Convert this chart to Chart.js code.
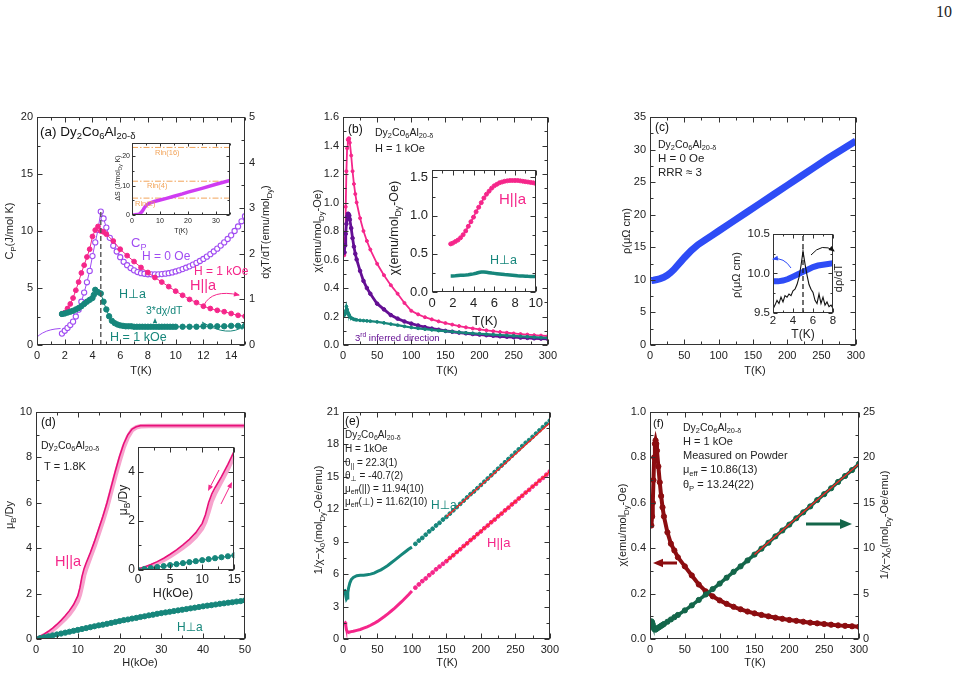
<!DOCTYPE html>
<html><head><meta charset="utf-8">
<script src="https://cdn.jsdelivr.net/npm/chart.js@4.4.1/dist/chart.umd.min.js"></script>
<style>
html,body{margin:0;padding:0;background:#fff;}
#wrap{position:relative;width:962px;height:678px;overflow:hidden;background:#fff;}
#wrap canvas{position:absolute;}
#pg{position:absolute;left:936px;top:3px;font:16px 'Liberation Serif','DejaVu Serif',serif;color:#222;}
</style></head><body><div id="wrap"><div id="pg">10</div></div>
<script>
// ---------------- DATA ----------------
// (a) specific heat and derivatives
const aCpT = [1.8,2.0,2.2,2.4,2.6,2.8,3.0,3.2,3.4,3.6,3.8,4.0,4.2,4.4,4.6,4.8,5.0,5.25,5.5,5.75,6.0,6.25,6.5,6.75,7.0,7.25,7.5,7.75,8.0,8.25,8.5,8.75,9.0,9.25,9.5,9.75,10.0,10.25,10.5,10.75,11.0,11.25,11.5,11.75,12.0,12.25,12.5,12.75,13.0,13.25,13.5,13.75,14.0,14.25,14.5,14.75,15.0];
const aCp = [1.0,1.25,1.5,1.75,2.05,2.5,3.1,3.8,4.6,5.5,6.5,7.8,9.0,10.1,11.7,11.1,10.3,9.4,8.7,8.2,7.7,7.3,7.0,6.75,6.55,6.4,6.3,6.25,6.2,6.2,6.2,6.2,6.22,6.26,6.3,6.37,6.45,6.55,6.66,6.78,6.9,7.05,7.2,7.37,7.55,7.75,7.97,8.2,8.45,8.72,9.0,9.3,9.62,10.0,10.4,10.85,11.3];
const aCpFitT = [0,0.2,0.4,0.7,1.0,1.3,1.7];
const aCpFit = [0.7,0.9,1.05,1.22,1.33,1.4,1.45];
const aParaT = [1.8,2.0,2.2,2.4,2.6,2.8,3.0,3.2,3.4,3.6,3.8,4.0,4.2,4.4,4.6,4.8,5.0,5.5,6.0,6.5,7.0,7.5,8.0,8.5,9.0,9.5,10.0,10.5,11.0,11.5,12.0,12.5,13.0,13.5,14.0,14.5,15.0];
const aPara = [0.675,0.71,0.8,0.9,1.03,1.2,1.38,1.58,1.75,1.93,2.1,2.38,2.52,2.6,2.5,2.48,2.43,2.28,2.1,1.96,1.83,1.7,1.59,1.48,1.38,1.28,1.18,1.09,1.0,0.93,0.85,0.8,0.76,0.73,0.69,0.65,0.63];
const aPerpT = [1.8,2.0,2.2,2.4,2.6,2.8,3.0,3.2,3.4,3.6,3.8,4.0,4.1,4.2,4.4,4.6,4.8,5.0,5.2,5.4,5.6,5.8,6.0,6.2,6.4,6.6,6.8,7.0,7.2,7.4,7.6,7.8,8.0,8.2,8.4,8.6,8.8,9.0,9.2,9.4,9.6,9.8,10.0,10.5,11.0,11.5,12.0,12.5,13.0,13.5,14.0,14.5,15.0];
const aPerp = [0.68,0.69,0.71,0.73,0.75,0.78,0.81,0.85,0.9,0.95,0.99,1.03,1.1,1.21,1.16,1.13,0.95,0.78,0.63,0.53,0.48,0.45,0.43,0.42,0.41,0.41,0.41,0.4,0.4,0.4,0.4,0.4,0.4,0.4,0.4,0.4,0.4,0.4,0.4,0.4,0.4,0.4,0.4,0.4,0.4,0.4,0.41,0.41,0.41,0.41,0.42,0.42,0.42];
const aTnT = [4.6,4.6];
const aTn = [0,11.9];
const aDST = [0,1,2,2.5,3,3.5,4,4.5,5,5.5,6,7,8,10,12,15,18,20,25,30,35];
const aDS = [0,0.05,0.15,0.3,0.6,1.1,1.8,2.6,3.2,3.6,3.9,4.3,4.6,5.1,5.6,6.4,7.2,7.8,9.1,10.5,11.8];
const aRlnX = [0,35];
const aRlnNames = ['Rln(2)','Rln(4)','Rln(16)'];
const aRlnVals = [5.76,11.53,23.05];
// (b) susceptibility
const bT = [1.8,2,3,4,5,6,7,8,9,10,12,14,16,18,20,25,30,35,40,50,60,70,80,90,100,110,120,130,140,150,160,170,180,190,200,210,220,230,240,250,260,270,280,290,300];
const bPara = [0.63,0.64,0.75,0.97,1.22,1.38,1.44,1.45,1.45,1.42,1.33,1.22,1.13,1.06,1.0,0.89,0.8,0.73,0.67,0.57,0.49,0.42,0.36,0.295,0.24,0.215,0.195,0.18,0.166,0.154,0.143,0.133,0.124,0.116,0.109,0.103,0.097,0.091,0.086,0.081,0.077,0.073,0.069,0.066,0.063];
const bThird = [0.65,0.65,0.7,0.78,0.85,0.9,0.92,0.92,0.91,0.88,0.82,0.75,0.69,0.64,0.6,0.52,0.45,0.4,0.36,0.29,0.25,0.21,0.185,0.165,0.15,0.137,0.125,0.115,0.107,0.099,0.093,0.087,0.082,0.077,0.073,0.069,0.065,0.061,0.058,0.055,0.052,0.05,0.047,0.045,0.043];
const bPerp = [0.21,0.21,0.22,0.24,0.27,0.25,0.23,0.22,0.21,0.2,0.19,0.185,0.18,0.178,0.176,0.173,0.171,0.169,0.167,0.162,0.155,0.147,0.139,0.131,0.123,0.117,0.111,0.106,0.101,0.097,0.093,0.089,0.085,0.082,0.079,0.076,0.073,0.07,0.067,0.064,0.061,0.058,0.055,0.052,0.05];
const biT = [1.8,2,2.25,2.5,2.75,3,3.25,3.5,3.75,4,4.25,4.5,4.75,5,5.25,5.5,5.75,6,6.25,6.5,6.75,7,7.25,7.5,7.75,8,8.25,8.5,8.75,9,9.25,9.5,9.75,10];
const biPara = [0.63,0.64,0.66,0.68,0.71,0.75,0.8,0.86,0.92,0.98,1.05,1.11,1.17,1.23,1.28,1.32,1.36,1.39,1.41,1.43,1.44,1.45,1.455,1.46,1.46,1.46,1.46,1.455,1.45,1.445,1.44,1.435,1.43,1.42];
const biPerp = [0.21,0.21,0.212,0.215,0.218,0.22,0.223,0.227,0.232,0.237,0.245,0.255,0.262,0.262,0.258,0.253,0.248,0.244,0.24,0.236,0.232,0.228,0.225,0.222,0.219,0.216,0.213,0.211,0.209,0.207,0.205,0.204,0.203,0.202];
// (c) resistivity
const cT = [2,5,10,15,20,25,30,35,40,45,50,60,70,80,90,100,120,140,160,180,200,220,240,260,280,300];
const cRho = [9.9,9.95,10.05,10.2,10.4,10.7,11.1,11.6,12.2,12.8,13.4,14.5,15.4,16.1,16.8,17.5,18.9,20.3,21.7,23.1,24.5,25.9,27.3,28.7,30.0,31.3];
const ciT = [2,2.5,3,3.5,4,4.5,5,5.5,6,6.5,7,7.5,8];
const ciRho = [9.9,9.9,9.91,9.93,9.96,9.99,10.02,10.05,10.08,10.1,10.11,10.12,10.13];
const ciDT = [2.0,2.2,2.4,2.6,2.8,3.0,3.2,3.4,3.6,3.8,4.0,4.2,4.4,4.6,4.8,5.0,5.2,5.4,5.6,5.8,6.0,6.2,6.4,6.6,6.8,7.0,7.2,7.4,7.6,7.8,8.0];
const ciD = [9.55,9.6,9.66,9.62,9.7,9.64,9.72,9.7,9.74,9.72,9.78,9.8,9.86,9.95,10.1,10.28,10.12,9.98,9.86,9.8,9.76,9.66,9.62,9.74,9.62,9.7,9.6,9.64,9.58,9.6,9.56];
const ciTnT = [5,5];
const ciTn = [9.5,10.5];
// (d) magnetization
const dH = [0,1,2,3,4,5,6,7,8,9,10,10.5,11,11.5,12,13,14,15,16,17,18,19,20,21,22,23,24,25,27,30,35,40,45,50];
const dDown = [0.05,0.12,0.22,0.34,0.48,0.64,0.82,1.02,1.25,1.52,1.9,2.25,2.75,3.1,3.35,3.8,4.3,4.85,5.4,6.0,6.7,7.4,8.05,8.6,9.0,9.25,9.35,9.4,9.4,9.4,9.4,9.4,9.4,9.4];
const dUp = [0,0.07,0.16,0.27,0.4,0.55,0.72,0.9,1.1,1.35,1.68,1.95,2.35,2.8,3.1,3.6,4.1,4.65,5.2,5.8,6.5,7.2,7.85,8.45,8.9,9.2,9.32,9.37,9.38,9.38,9.38,9.38,9.38,9.38];
const dPerpH = [0,1,2,3,4,5,6,7,8,9,10,11,12,13,14,15,16,17,18,19,20,21,22,23,24,25,26,27,28,29,30,31,32,33,34,35,36,37,38,39,40,41,42,43,44,45,46,47,48,49,50];
const dPerp = [0,0.04,0.08,0.12,0.16,0.2,0.24,0.28,0.32,0.36,0.4,0.44,0.48,0.52,0.56,0.6,0.63,0.67,0.71,0.75,0.79,0.83,0.86,0.9,0.93,0.97,1.0,1.04,1.07,1.11,1.14,1.17,1.2,1.23,1.26,1.29,1.32,1.35,1.38,1.41,1.44,1.47,1.49,1.52,1.55,1.57,1.6,1.62,1.65,1.67,1.7];
// (e) inverse susceptibility
const eT = [2,3,4,5,6,7,8,10,12,15,20,25,30,35,40,45,50,55,60,65,70,75,80,85,90,95,100,105,110,115,120,125,130,135,140,145,150,155,160,165,170,175,180,185,190,195,200,205,210,215,220,225,230,235,240,245,250,255,260,265,270,275,280,285,290,295,300];
const ePerp = [4.6,4.4,4.0,3.7,3.8,4.3,4.7,5.2,5.5,5.7,5.85,5.9,5.9,5.95,6.0,6.1,6.25,6.4,6.6,6.8,7.05,7.3,7.55,7.8,8.05,8.3,8.5,8.8,9.1,9.35,9.65,9.95,10.2,10.5,10.75,11.05,11.3,11.6,11.9,12.2,12.5,12.8,13.1,13.4,13.65,13.95,14.25,14.55,14.85,15.15,15.45,15.75,16.05,16.35,16.65,16.95,17.25,17.55,17.85,18.15,18.4,18.7,19.0,19.3,19.6,19.9,20.2];
const ePara = [1.6,1.55,1.25,0.85,0.7,0.66,0.65,0.65,0.68,0.72,0.8,0.88,1.0,1.12,1.27,1.44,1.63,1.85,2.08,2.33,2.59,2.86,3.15,3.45,3.77,4.1,4.45,4.75,5.05,5.35,5.6,5.9,6.15,6.45,6.7,6.95,7.2,7.5,7.75,8.05,8.3,8.6,8.85,9.15,9.4,9.7,9.95,10.25,10.5,10.8,11.05,11.35,11.6,11.9,12.15,12.45,12.7,13.0,13.25,13.55,13.8,14.1,14.35,14.65,14.9,15.2,15.5];
const eFitT = [150,300];
const eFitPerp = [11.3,20.0];
const eFitPara = [7.2,15.5];
// (f) powder
const fT = [2,3,4,5,6,7,8,9,10,12,14,16,18,20,25,30,35,40,50,60,70,80,90,100,110,120,130,140,150,160,170,180,190,200,210,220,230,240,250,260,270,280,290,300];
const fChi = [0.5,0.54,0.6,0.7,0.8,0.86,0.875,0.86,0.83,0.76,0.69,0.63,0.58,0.54,0.47,0.42,0.39,0.36,0.32,0.28,0.24,0.21,0.188,0.17,0.155,0.142,0.131,0.121,0.113,0.106,0.1,0.094,0.089,0.084,0.08,0.076,0.072,0.069,0.066,0.063,0.06,0.058,0.056,0.054];
const fInv = [1.95,1.85,1.6,1.3,1.1,1.05,1.05,1.1,1.15,1.25,1.35,1.45,1.55,1.65,1.9,2.15,2.4,2.65,3.15,3.7,4.3,4.9,5.5,6.1,6.75,7.4,8.0,8.65,9.3,9.95,10.6,11.3,11.95,12.6,13.3,13.95,14.6,15.3,15.95,16.6,17.3,17.95,18.6,19.3];
const fFitT = [150,300];
const fFit = [9.3,19.3];

// ---------------- STYLE / HELPERS ----------------
const FONT = "'Liberation Sans', Arial, 'DejaVu Sans', sans-serif";
const COL = {pink:'#f5268a', lpink:'#f7a3cd', teal:'#16867b', cp:'#a04cf2', purple:'#640f94', mag:'#cf3cf2',
  orange:'#f2a45a', blue:'#2e4cf6', dred:'#8c0d10', green:'#14664a', red:'#ff2424', gray:'#555', txt:'#222'};
const DECO = {};

function pts(xs, ys){ return xs.map((x,i)=>({x:x, y:ys[i]})); }
function ds(xs, ys, o){
  const d = {data:pts(xs,ys), borderColor:o.c, backgroundColor:o.c, borderWidth:o.w ?? 1,
    pointRadius:o.r ?? 0, pointBorderWidth:o.pbw ?? 1, pointBorderColor:o.pc ?? o.c,
    pointBackgroundColor:o.pf ?? o.c, showLine:o.line !== false, yAxisID:o.y || 'y',
    borderDash:o.dash || [], pointStyle:'circle', fill:false, tension:0};
  if (o.seg) d.segment = o.seg;
  return d;
}
function parseRich(s){
  const out=[]; let buf=''; let i=0;
  while(i<s.length){
    const c=s[i];
    if((c==='_'||c==='^') && s[i+1]==='{'){
      if(buf){out.push({t:buf,m:0});buf='';}
      const j=s.indexOf('}',i);
      out.push({t:s.slice(i+2,j), m:c==='_'?1:2}); i=j+1;
    } else {buf+=c;i++;}
  }
  if(buf) out.push({t:buf,m:0});
  return out;
}
function rich(ctx, s, x, y, size, color, align, rot){
  const segs=parseRich(s);
  ctx.save(); ctx.translate(x,y); ctx.rotate(rot||0);
  ctx.fillStyle=color||COL.txt; ctx.textBaseline='middle'; ctx.textAlign='left';
  let w=0;
  segs.forEach(g=>{ g.fs = g.m ? size*0.7 : size; ctx.font=g.fs+'px '+FONT; g.w=ctx.measureText(g.t).width; w+=g.w; });
  let px = align==='center' ? -w/2 : (align==='right' ? -w : 0);
  segs.forEach(g=>{ ctx.font=g.fs+'px '+FONT; const dy = g.m===1 ? size*0.32 : (g.m===2 ? -size*0.35 : 0); ctx.fillText(g.t, px, dy); px+=g.w; });
  ctx.restore();
}
function head(ctx, x, y, ang, size, color){
  ctx.save(); ctx.translate(x,y); ctx.rotate(ang); ctx.beginPath();
  ctx.moveTo(0,0); ctx.lineTo(-size,-size*0.42); ctx.lineTo(-size,size*0.42); ctx.closePath();
  ctx.fillStyle=color; ctx.fill(); ctx.restore();
}
function carrow(ctx, p0, c, p1, color, w, hs){
  ctx.save(); ctx.strokeStyle=color; ctx.lineWidth=w; ctx.beginPath();
  ctx.moveTo(p0[0],p0[1]); ctx.quadraticCurveTo(c[0],c[1],p1[0],p1[1]);
  const ang=Math.atan2(p1[1]-c[1], p1[0]-c[0]);
  ctx.stroke(); head(ctx,p1[0]+Math.cos(ang)*1,p1[1]+Math.sin(ang)*1,ang,hs,color); ctx.restore();
}
function sarrow(ctx, p0, p1, color, w, hs){
  const ang=Math.atan2(p1[1]-p0[1], p1[0]-p0[0]);
  ctx.save(); ctx.strokeStyle=color; ctx.lineWidth=w; ctx.beginPath();
  ctx.moveTo(p0[0],p0[1]); ctx.lineTo(p1[0]-Math.cos(ang)*hs*0.8, p1[1]-Math.sin(ang)*hs*0.8); ctx.stroke();
  head(ctx,p1[0],p1[1],ang,hs,color); ctx.restore();
}
const fmt1 = v => Number(v).toFixed(1);
const fmt0 = v => String(Math.round(v*100)/100);

const framePlugin = {
  id:'frame',
  afterDatasetsDraw(chart){
    const o = chart.$frame || {maj:5, mn:3};
    const ctx=chart.ctx, a=chart.chartArea, sx=chart.scales.x, sy=chart.scales.y, sy2=chart.scales.y2;
    ctx.save(); ctx.strokeStyle='#333'; ctx.lineWidth=1;
    const l=Math.round(a.left)+0.5, r=Math.round(a.right)-0.5, t=Math.round(a.top)+0.5, b=Math.round(a.bottom)-0.5;
    ctx.strokeRect(l,t,r-l,b-t);
    const marks = (scale) => {
      const vals = scale.ticks.map(k=>k.value); const out=[];
      if (vals.length<2) return out;
      const st=vals[1]-vals[0], h=st/2; let v=vals[0];
      while (v-h >= scale.min-1e-9) v-=h;
      for (; v<=scale.max+1e-9; v+=h){ const k=(v-vals[0])/st; out.push({p:scale.getPixelForValue(v), M:Math.abs(k-Math.round(k))<1e-6}); }
      return out;
    };
    ctx.beginPath();
    marks(sx).forEach(m=>{ const L=m.M?o.maj:o.mn, p=Math.round(m.p)+0.5; ctx.moveTo(p,b); ctx.lineTo(p,b-L); ctx.moveTo(p,t); ctx.lineTo(p,t+L); });
    marks(sy).forEach(m=>{ const L=m.M?o.maj:o.mn, p=Math.round(m.p)+0.5; ctx.moveTo(l,p); ctx.lineTo(l+L,p); if(!sy2){ ctx.moveTo(r,p); ctx.lineTo(r-L,p);} });
    if (sy2) marks(sy2).forEach(m=>{ const L=m.M?o.maj:o.mn, p=Math.round(m.p)+0.5; ctx.moveTo(r,p); ctx.lineTo(r-L,p); });
    ctx.stroke(); ctx.restore();
  }
};
const decoPlugin = {
  id:'deco',
  afterDraw(chart){
    const d = DECO[chart.canvas.id]; if(!d) return;
    const ctx=chart.ctx; ctx.save(); ctx.translate(-d.cx,-d.cy); d.fn(ctx, chart); ctx.restore();
  }
};
Chart.register(framePlugin, decoPlugin);

function makeChart(id, cfg){
  const [L,T,R,B]=cfg.rect, [ml,mt,mr,mb]=cfg.m;
  const cx=L-ml, cy=T-mt, cw=R-L+ml+mr, ch=B-T+mt+mb;
  const cv=document.createElement('canvas'); cv.id=id; cv.width=cw; cv.height=ch;
  cv.style.left=cx+'px'; cv.style.top=cy+'px'; cv.style.width=cw+'px'; cv.style.height=ch+'px';
  document.getElementById('wrap').appendChild(cv);
  DECO[id] = {cx:cx, cy:cy, fn:cfg.deco || (()=>{})};
  const tf = cfg.tickFont || 11, tp = cfg.tickPad ?? 4;
  const axis = (ax, pos, size) => ({
    type:'linear', position:pos, min:ax.min, max:ax.max,
    grid:{display:false, drawTicks:false}, border:{display:false},
    ticks:{display:ax.labels!==false, stepSize:ax.step, autoSkip:false, includeBounds:false, maxRotation:0, minRotation:0,
      padding:ax.pad ?? tp, color:COL.txt, font:{family:FONT, size:tf}, callback:ax.fmt || fmt0},
    afterFit(s){ if(pos==='bottom') s.height=size; else s.width=size; }
  });
  const scales = {x:axis(cfg.x,'bottom',mb), y:axis(cfg.y,'left',ml)};
  if (cfg.y2) scales.y2 = axis(cfg.y2,'right',mr);
  const ch_ = new Chart(cv, {type:'line', data:{datasets:cfg.datasets},
    options:{responsive:false, animation:false, devicePixelRatio:1, events:[],
      layout:{autoPadding:false, padding:{left:0, top:mt, right:cfg.y2?0:mr, bottom:0}},
      scales:scales, plugins:{legend:{display:false}, tooltip:{enabled:false}}}});
  ch_.$frame = {maj:cfg.maj || 5, mn:cfg.mn || 3};
  ch_.draw();
  return ch_;
}
const RV = -Math.PI/2;

// ---------------- PANEL (a) ----------------
makeChart('ca', {rect:[37,117,245,345], m:[37,12,32,35],
  x:{min:0,max:15,step:2}, y:{min:0,max:20,step:5}, y2:{min:0,max:5,step:1},
  datasets:[
    ds(aTnT, aTn, {c:COL.gray, w:1.4, dash:[5,3]}),
    ds(aPerpT, aPerp, {c:COL.teal, w:1, r:2.7, y:'y2'}),
    ds(aParaT, aPara, {c:COL.pink, w:1, r:2.4, y:'y2'}),
    ds(aCpT, aCp, {c:COL.cp, w:1, r:2.6, pf:'#fff', pbw:1.1}),
    ds(aCpFitT, aCpFit, {c:COL.cp, w:1})
  ],
  deco(ctx){
    rich(ctx,'(a) Dy_{2}Co_{6}Al_{20-δ}',40,132,13.5,'#111');
    rich(ctx,'C_{P}',131,243,13,COL.cp);
    rich(ctx,'H = 0 Oe',142,257,12,COL.cp);
    rich(ctx,'H = 1 kOe',194,272,12,COL.pink);
    rich(ctx,'H||a',190,286,14.5,COL.pink);
    rich(ctx,'H⊥a',119,295,12.5,COL.teal);
    rich(ctx,'3*dχ/dT',146,311,10.5,COL.teal);
    rich(ctx,'H = 1 kOe',110,338,12.5,COL.teal);
    carrow(ctx,[204,305],[212,289],[239,295],COL.pink,1,6);
    carrow(ctx,[202,322],[228,338],[244,326],COL.teal,1,5);
    head(ctx,155,318,-Math.PI/2,5,COL.teal);
    rich(ctx,'C_{P}(J/mol K)',10,231,11,COL.txt,'center',RV);
    rich(ctx,'dχT/dT(emu/mol_{Dy})',266,232,11,COL.txt,'center',RV);
    rich(ctx,'T(K)',141,371,11,COL.txt,'center');
  }
});
makeChart('cai', {rect:[132,142,230,215], m:[20,5,5,20], tickFont:7, tickPad:2, maj:3, mn:2,
  x:{min:0,max:35,step:10}, y:{min:0,max:24.5,step:10},
  datasets:[
    ds(aDST, aDS, {c:COL.mag, w:3.5}),
    ds(aRlnX, [aRlnVals[0],aRlnVals[0]], {c:COL.orange, w:1, dash:[6,2,1.5,2]}),
    ds(aRlnX, [aRlnVals[1],aRlnVals[1]], {c:COL.orange, w:1, dash:[6,2,1.5,2]}),
    ds(aRlnX, [aRlnVals[2],aRlnVals[2]], {c:COL.orange, w:1, dash:[6,2,1.5,2]})
  ],
  deco(ctx){
    rich(ctx,aRlnNames[2],155,153,7.5,COL.orange);
    rich(ctx,aRlnNames[1],147,186,7.5,COL.orange);
    rich(ctx,aRlnNames[0],135,204,7.5,COL.orange);
    rich(ctx,'ΔS (J/mol_{Dy} K)',118,178,7,COL.txt,'center',RV);
    rich(ctx,'T(K)',181,231,7,COL.txt,'center');
  }
});

// ---------------- PANEL (b) ----------------
makeChart('cb', {rect:[343,117,551,345], m:[40,12,10,35],
  x:{min:0,max:300,step:50}, y:{min:0,max:1.6,step:0.2,fmt:fmt1},
  datasets:[
    ds(bT, bPerp, {c:COL.teal, w:2.2, r:1.4}),
    ds(bT, bThird, {c:COL.purple, w:2.8, r:1.8}),
    ds(bT, bPara, {c:COL.pink, w:1.8, r:1.5})
  ],
  deco(ctx){
    rich(ctx,'(b)',348,130,12,'#111');
    rich(ctx,'Dy_{2}Co_{6}Al_{20-δ}',375,133,10.5);
    rich(ctx,'H = 1 kOe',375,149,11);
    rich(ctx,'3^{rd} inferred direction',355,338,9.5,COL.purple);
    rich(ctx,'χ(emu/mol_{Dy}-Oe)',318,231,11,COL.txt,'center',RV);
    rich(ctx,'T(K)',447,371,11,COL.txt,'center');
  }
});
makeChart('cbi', {rect:[432,164,539,292], m:[44,6,8,36], tickFont:13,
  x:{min:0,max:10,step:2}, y:{min:0,max:1.6,step:0.5,fmt:fmt1},
  datasets:[
    ds(biT, biPerp, {c:COL.teal, w:3.5}),
    ds(biT, biPara, {c:COL.pink, w:1.5, r:2})
  ],
  deco(ctx){
    rich(ctx,'H||a',499,200,15,COL.pink);
    rich(ctx,'H⊥a',490,261,12.5,COL.teal);
    rich(ctx,'χ(emu/mol_{Dy}-Oe)',395,228,12.5,COL.txt,'center',RV);
    rich(ctx,'T(K)',485,321,13,COL.txt,'center');
  }
});

// ---------------- PANEL (c) ----------------
makeChart('cc', {rect:[650,117,859,345], m:[40,12,10,35],
  x:{min:0,max:300,step:50}, y:{min:0,max:35,step:5},
  datasets:[ ds(cT, cRho, {c:COL.blue, w:7}) ],
  deco(ctx){
    rich(ctx,'(c)',655,128,12,'#111');
    rich(ctx,'Dy_{2}Co_{6}Al_{20-δ}',658,145,10.5);
    rich(ctx,'H = 0 Oe',658,159,11.5);
    rich(ctx,'RRR ≈ 3',658,173,11.5);
    rich(ctx,'ρ(μΩ cm)',627,231,11,COL.txt,'center',RV);
    rich(ctx,'T(K)',755,371,11,COL.txt,'center');
  }
});
makeChart('cci', {rect:[773,230,833,313], m:[45,6,12,30], tickFont:11.5, tickPad:1, maj:4, mn:2,
  x:{min:2,max:8,step:2}, y:{min:9.5,max:10.5,step:0.5,fmt:fmt1,pad:3},
  datasets:[
    ds(ciTnT, ciTn, {c:'#111', w:1.2, dash:[5,3]}),
    ds(ciDT, ciD, {c:'#111', w:1.1}),
    ds(ciT, ciRho, {c:COL.blue, w:6})
  ],
  deco(ctx){
    carrow(ctx,[791,268],[784,257],[773,259],COL.blue,1,6);
    carrow(ctx,[811,255],[822,242],[834,251],'#111',1,6);
    rich(ctx,'ρ(μΩ cm)',737,275,11,COL.txt,'center',RV);
    rich(ctx,'dρ/dT',839,278,11,COL.txt,'center',RV);
    rich(ctx,'T(K)',803,335,12,COL.txt,'center');
  }
});

// ---------------- PANEL (d) ----------------
makeChart('cd', {rect:[36,412,245,639], m:[36,12,10,34],
  x:{min:0,max:50,step:10}, y:{min:0,max:10,step:2},
  datasets:[
    ds(dPerpH, dPerp, {c:COL.teal, line:false, r:2.6}),
    ds(dH, dDown, {c:'#e8107a', w:1.6}),
    ds(dH, dUp, {c:COL.lpink, w:4.5})
  ],
  deco(ctx){
    rich(ctx,'(d)',41,423,12,'#111');
    rich(ctx,'Dy_{2}Co_{6}Al_{20-δ}',41,446,10.5);
    rich(ctx,'T = 1.8K',44,467,11);
    rich(ctx,'H||a',55,562,14.5,COL.pink);
    rich(ctx,'H⊥a',177,628,12,COL.teal);
    rich(ctx,'μ_{B}/Dy',10,515,11,COL.txt,'center',RV);
    rich(ctx,'H(kOe)',140,663,11,COL.txt,'center');
  }
});
makeChart('cdi', {rect:[138,443,237,570], m:[22,6,6,32], tickFont:12, tickPad:2,
  x:{min:0,max:15,step:5}, y:{min:0,max:5,step:2,pad:3},
  datasets:[
    ds(dPerpH, dPerp, {c:COL.teal, w:1, r:2.6}),
    ds(dH, dDown, {c:'#e8107a', w:1.6}),
    ds(dH, dUp, {c:COL.lpink, w:4})
  ],
  deco(ctx){
    sarrow(ctx,[219,470],[208,491],COL.pink,1,6);
    sarrow(ctx,[221,504],[232,482],COL.pink,1,6);
    rich(ctx,'μ_{B}/Dy',124,500,12,COL.txt,'center',RV);
    rich(ctx,'H(kOe)',173,594,12.5,COL.txt,'center');
  }
});

// ---------------- PANEL (e) ----------------
const dotAbove100 = c => (c.raw && c.raw.x > 100) ? 1.9 : 0;
const lineBelow100 = {borderColor: c => c.p0.parsed.x >= 100 ? 'rgba(0,0,0,0)' : undefined};
makeChart('ce', {rect:[343,412,553,639], m:[40,12,10,34],
  x:{min:0,max:300,step:50}, y:{min:0,max:21,step:3},
  datasets:[
    ds(eFitT, eFitPerp, {c:COL.red, w:1.4}),
    ds(eFitT, eFitPara, {c:COL.red, w:1.4}),
    Object.assign(ds(eT, ePerp, {c:COL.teal, w:3, seg:lineBelow100}), {pointRadius:dotAbove100}),
    Object.assign(ds(eT, ePara, {c:COL.pink, w:3, seg:lineBelow100}), {pointRadius:dotAbove100})
  ],
  deco(ctx){
    rich(ctx,'(e)',345,422,12,'#111');
    rich(ctx,'Dy_{2}Co_{6}Al_{20-δ}',345,435,10);
    rich(ctx,'H = 1kOe',345,449,10);
    rich(ctx,'θ_{||} = 22.3(1)',345,463,10);
    rich(ctx,'θ_{⊥} = -40.7(2)',345,476,10);
    rich(ctx,'μ_{eff}(||) = 11.94(10)',345,489,10);
    rich(ctx,'μ_{eff}(⊥) = 11.62(10)',345,502,10);
    rich(ctx,'H⊥a',431,506,12,COL.teal);
    rich(ctx,'H||a',487,543,13,COL.pink);
    rich(ctx,'1/χ−χ_{0}(mol_{Dy}-Oe/emu)',319,520,11,COL.txt,'center',RV);
    rich(ctx,'T(K)',447,663,11,COL.txt,'center');
  }
});

// ---------------- PANEL (f) ----------------
makeChart('cf', {rect:[650,412,859,639], m:[40,12,40,34],
  x:{min:0,max:300,step:50}, y:{min:0,max:1.0,step:0.2,fmt:fmt1}, y2:{min:0,max:25,step:5},
  datasets:[
    ds(fFitT, fFit, {c:COL.red, w:1.3, y:'y2'}),
    ds(fT, fInv, {c:COL.green, w:3.5, r:2.6, y:'y2'}),
    ds(fT, fChi, {c:COL.dred, w:4, r:2.6})
  ],
  deco(ctx){
    rich(ctx,'(f)',653,424,11.5,'#111');
    rich(ctx,'Dy_{2}Co_{6}Al_{20-δ}',683,428,10.5);
    rich(ctx,'H = 1 kOe',683,442,11);
    rich(ctx,'Measured on Powder',683,456,11);
    rich(ctx,'μ_{eff} = 10.86(13)',683,470,11);
    rich(ctx,'θ_{P} = 13.24(22)',683,485,11);
    sarrow(ctx,[677,563],[653,563],COL.dred,3,10);
    sarrow(ctx,[806,524],[852,524],COL.green,3,12);
    rich(ctx,'χ(emu/mol_{Dy}-Oe)',623,525,11,COL.txt,'center',RV);
    rich(ctx,'1/χ−χ_{0}(mol_{Dy}-Oe/emu)',885,525,11,COL.txt,'center',RV);
    rich(ctx,'T(K)',755,663,11,COL.txt,'center');
  }
});
</script></body></html>
